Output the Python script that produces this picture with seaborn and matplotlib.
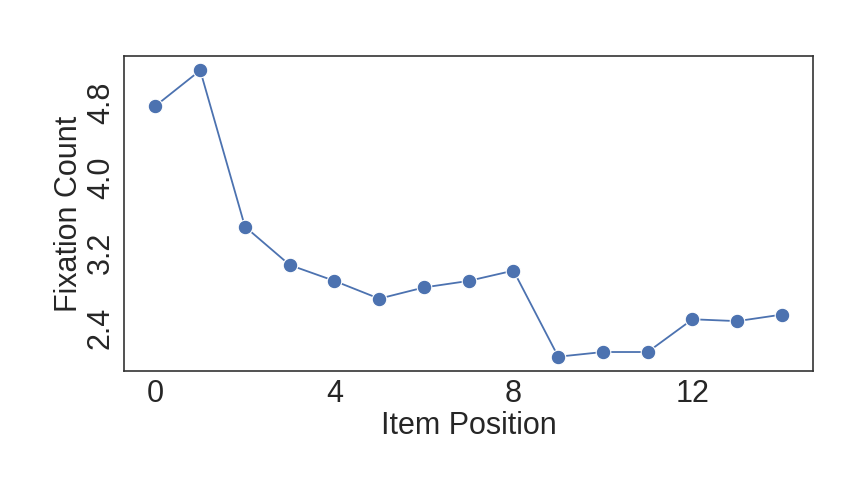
import numpy as np
import pandas as pd
import matplotlib
matplotlib.use("Agg")
import matplotlib.pyplot as plt
import seaborn as sns

# valores
item_position = list(range(15))
fixation_count = [4.77, 5.15, 3.48, 3.07, 2.90, 2.71, 2.83, 2.90, 3.01,
                  2.09, 2.14, 2.14, 2.49, 2.47, 2.54]

df = pd.DataFrame({"Item Position": item_position,
                   "Fixation Count": fixation_count})

sns.set_theme(style="white")
plt.rcParams['font.family'] = ['Liberation Sans', 'DejaVu Sans']

fig = plt.figure(figsize=(8.68, 4.96), dpi=100)
ax = fig.add_axes([0.143, 0.252, 0.794, 0.635])

sns.lineplot(data=df, x="Item Position", y="Fixation Count", ax=ax,
             color="#4c72b0", linewidth=1.3, marker="o", markersize=10.5,
             markeredgecolor="white", markeredgewidth=0.8)

ax.set_xticks([0, 4, 8, 12])
ax.set_yticks([2.4, 3.2, 4.0, 4.8])
ax.tick_params(axis="both", labelsize=22, pad=0)
for lab in ax.get_yticklabels():
    lab.set_rotation(90)
    lab.set_va("center")
ax.set_xlabel("Item Position", fontsize=22, labelpad=1)
ax.set_ylabel("Fixation Count", fontsize=22, labelpad=1)
for s in ax.spines.values():
    s.set_color("#333333")
    s.set_linewidth(1.2)

fig.savefig("out.png", dpi=100)
